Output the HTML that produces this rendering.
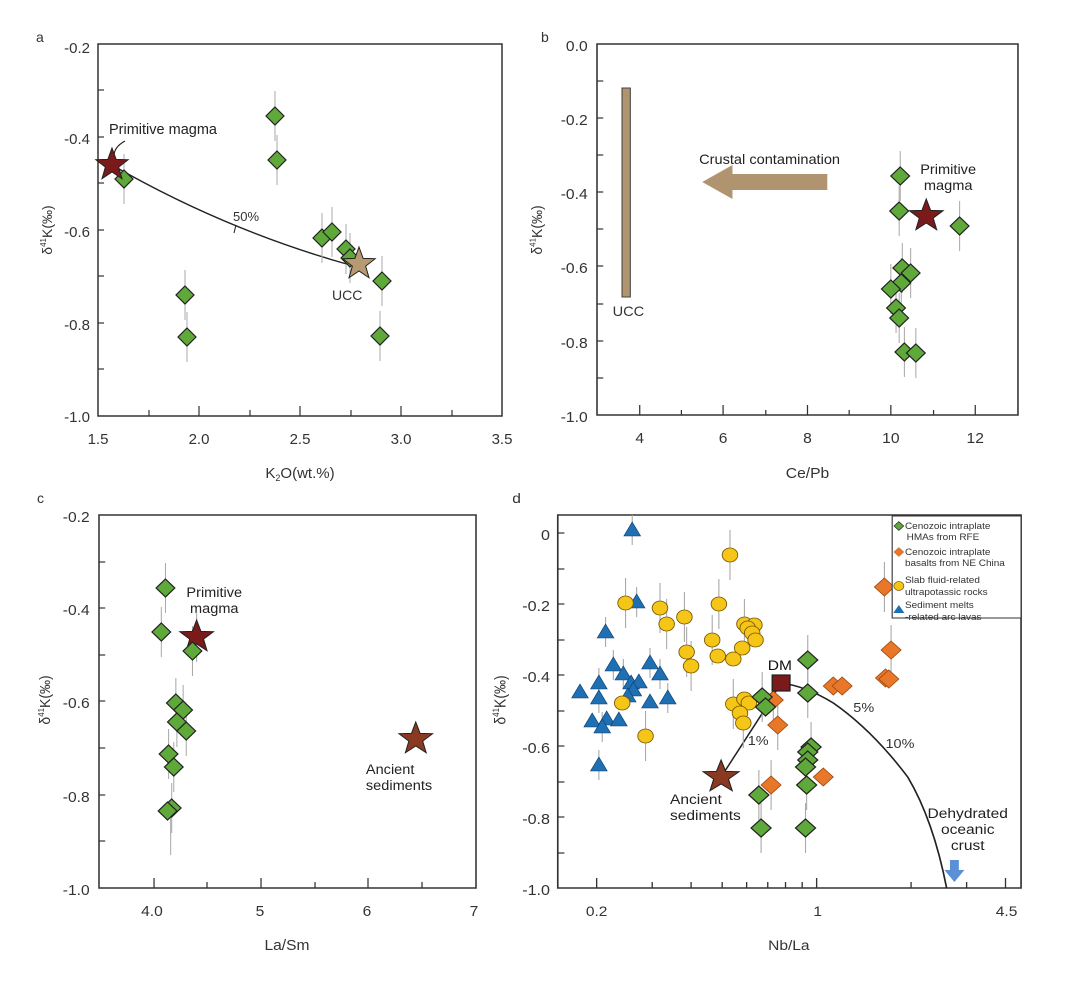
<!DOCTYPE html>
<html><head><meta charset="utf-8"><style>
body{margin:0;background:#fff}
svg{display:block;font-family:"Liberation Sans",sans-serif}
</style></head><body>
<svg width="1080" height="982" viewBox="0 0 1080 982">
<defs>
<polygon id="dg" points="0,-9 9,0 0,9 -9,0" fill="#5fa83a" stroke="#222" stroke-width="1.2"/>
<polygon id="dsm" points="0,-8 8,0 0,8 -8,0" fill="#5fa83a" stroke="#222" stroke-width="1.1"/>
<polygon id="do" points="0,-9 9,0 0,9 -9,0" fill="#e8772a" stroke="#a04a10" stroke-width="0.8"/>
<circle id="cy" r="7" fill="#f5c518" stroke="#7a5a00" stroke-width="0.8"/>
<polygon id="tb" points="0,-8 7.5,6 -7.5,6" fill="#1f6fb3" stroke="#0d3f70" stroke-width="0.6"/>
<polygon id="st" points="0,-17 4.11,-5.66 16.17,-5.25 6.66,2.16 9.99,13.75 0,7 -9.99,13.75 -6.66,2.16 -16.17,-5.25 -4.11,-5.66" stroke="#222" stroke-width="1"/>
<line id="eb" x1="0" y1="-25" x2="0" y2="25" stroke="#aaa" stroke-width="1"/>
<line id="ebs" x1="0" y1="-15" x2="0" y2="15" stroke="#aaa" stroke-width="1"/>
</defs>
<g font-size="14" fill="#333">
<!-- ===== Panel a ===== -->
<text x="36" y="42">a</text>
<rect x="98" y="44" width="404" height="372" fill="none" stroke="#333" stroke-width="1.5"/>
<g stroke="#333" stroke-width="1.2">
<line x1="98" y1="90" x2="104" y2="90"/><line x1="98" y1="137" x2="104" y2="137"/><line x1="98" y1="183" x2="104" y2="183"/><line x1="98" y1="230" x2="104" y2="230"/><line x1="98" y1="276" x2="104" y2="276"/><line x1="98" y1="323" x2="104" y2="323"/><line x1="98" y1="369" x2="104" y2="369"/>
<line x1="149" y1="416" x2="149" y2="410"/><line x1="199" y1="416" x2="199" y2="406"/><line x1="250" y1="416" x2="250" y2="410"/><line x1="300" y1="416" x2="300" y2="406"/><line x1="351" y1="416" x2="351" y2="410"/><line x1="401" y1="416" x2="401" y2="406"/><line x1="452" y1="416" x2="452" y2="410"/>
</g>
<g text-anchor="end" font-size="15"><text x="90" y="53">-0.2</text><text x="90" y="144">-0.4</text><text x="90" y="237">-0.6</text><text x="90" y="330">-0.8</text><text x="90" y="422">-1.0</text></g>
<g text-anchor="middle" font-size="15"><text x="98" y="444">1.5</text><text x="199" y="444">2.0</text><text x="300" y="444">2.5</text><text x="401" y="444">3.0</text><text x="502" y="444">3.5</text></g>
<text x="300" y="478" text-anchor="middle" font-size="15">K<tspan font-size="9" dy="3">2</tspan><tspan dy="-3">O(wt.%)</tspan></text>
<text transform="translate(52,230) rotate(-90)" text-anchor="middle" font-size="14">δ<tspan font-size="8" dy="-6">41</tspan><tspan dy="6">K(‰)</tspan></text>
<path d="M112,165 Q225,230 350,265" fill="none" stroke="#222" stroke-width="1.4"/>
<line x1="236" y1="225" x2="234" y2="233" stroke="#222"/>
<text x="233" y="221" font-size="13">50%</text>
<path d="M125,141 Q114,147 114,156" fill="none" stroke="#222" stroke-width="1.2"/>
<text x="109" y="134" font-size="14.5" fill="#222">Primitive magma</text>
<text x="332" y="300" font-size="14">UCC</text>
<g>
<use href="#eb" x="124" y="179"/><use href="#eb" x="275" y="116"/><use href="#eb" x="277" y="160"/><use href="#eb" x="185" y="295"/><use href="#eb" x="187" y="337"/><use href="#eb" x="322" y="238"/><use href="#eb" x="332" y="232"/><use href="#eb" x="346" y="249"/><use href="#eb" x="350" y="258"/><use href="#eb" x="382" y="281"/><use href="#eb" x="380" y="336"/>
<use href="#dg" x="124" y="179"/><use href="#dg" x="275" y="116"/><use href="#dg" x="277" y="160"/><use href="#dg" x="185" y="295"/><use href="#dg" x="187" y="337"/><use href="#dg" x="322" y="238"/><use href="#dg" x="332" y="232"/><use href="#dg" x="346" y="249"/><use href="#dg" x="350" y="258"/><use href="#dg" x="382" y="281"/><use href="#dg" x="380" y="336"/>
<use href="#st" x="112" y="165" fill="#7a1a1a"/><use href="#st" x="359" y="264" fill="#b89a72"/>
</g>

<!-- ===== Panel b ===== -->
<text x="541" y="42">b</text>
<g transform="translate(597,0) scale(1.042,1) translate(-599,0)">
<rect x="599" y="44" width="404" height="371" fill="none" stroke="#333" stroke-width="1.5"/>
<g stroke="#333" stroke-width="1.2">
<line x1="599" y1="81" x2="605" y2="81"/><line x1="599" y1="118" x2="605" y2="118"/><line x1="599" y1="155" x2="605" y2="155"/><line x1="599" y1="192" x2="605" y2="192"/><line x1="599" y1="229" x2="605" y2="229"/><line x1="599" y1="266" x2="605" y2="266"/><line x1="599" y1="304" x2="605" y2="304"/><line x1="599" y1="341" x2="605" y2="341"/><line x1="599" y1="378" x2="605" y2="378"/>
<line x1="640" y1="415" x2="640" y2="405"/><line x1="680" y1="415" x2="680" y2="410"/><line x1="720" y1="415" x2="720" y2="405"/><line x1="761" y1="415" x2="761" y2="410"/><line x1="801" y1="415" x2="801" y2="405"/><line x1="841" y1="415" x2="841" y2="410"/><line x1="881" y1="415" x2="881" y2="405"/><line x1="922" y1="415" x2="922" y2="410"/><line x1="962" y1="415" x2="962" y2="405"/>
</g>
<g text-anchor="end" font-size="15"><text x="590" y="51">0.0</text><text x="590" y="125">-0.2</text><text x="590" y="199">-0.4</text><text x="590" y="273">-0.6</text><text x="590" y="348">-0.8</text><text x="590" y="422">-1.0</text></g>
<g text-anchor="middle" font-size="15"><text x="640" y="443">4</text><text x="720" y="443">6</text><text x="801" y="443">8</text><text x="881" y="443">10</text><text x="962" y="443">12</text></g>
<text x="801" y="478" text-anchor="middle" font-size="15">Ce/Pb</text>
<text transform="translate(546,230) rotate(-90)" text-anchor="middle" font-size="14">δ<tspan font-size="8" dy="-6">41</tspan><tspan dy="6">K(‰)</tspan></text>
<rect x="623" y="88" width="8" height="209" fill="#b09470" stroke="#444" stroke-width="1"/>
<text x="614" y="316" font-size="14">UCC</text>
<polygon points="820,174 729,174 729,165 700,182 729,199 729,190 820,190" fill="#b09470"/>
<text x="697" y="164" font-size="14" fill="#222">Crustal contamination</text>
<text x="936" y="174" text-anchor="middle" font-size="14" fill="#222">Primitive</text>
<text x="936" y="190" text-anchor="middle" font-size="14" fill="#222">magma</text>
<g>
<use href="#eb" x="890" y="176"/><use href="#eb" x="889" y="211"/><use href="#eb" x="947" y="226"/><use href="#eb" x="892" y="268"/><use href="#eb" x="900" y="273"/><use href="#eb" x="891" y="283"/><use href="#eb" x="881" y="289"/><use href="#eb" x="886" y="308"/><use href="#eb" x="889" y="318"/><use href="#eb" x="894" y="352"/><use href="#eb" x="905" y="353"/>
<use href="#dg" x="890" y="176"/><use href="#dg" x="889" y="211"/><use href="#dg" x="947" y="226"/><use href="#dg" x="892" y="268"/><use href="#dg" x="900" y="273"/><use href="#dg" x="891" y="283"/><use href="#dg" x="881" y="289"/><use href="#dg" x="886" y="308"/><use href="#dg" x="889" y="318"/><use href="#dg" x="894" y="352"/><use href="#dg" x="905" y="353"/>
<use href="#st" x="915" y="216" fill="#7a1a1a"/>
</g>
</g>

<!-- ===== Panel c ===== -->
<text x="37" y="503">c</text>
<g transform="translate(99,0) scale(1.0386,1) translate(-99,0)">
<rect x="99" y="515" width="363" height="373" fill="none" stroke="#333" stroke-width="1.5"/>
<g stroke="#333" stroke-width="1.2">
<line x1="99" y1="562" x2="105" y2="562"/><line x1="99" y1="608" x2="105" y2="608"/><line x1="99" y1="655" x2="105" y2="655"/><line x1="99" y1="701" x2="105" y2="701"/><line x1="99" y1="748" x2="105" y2="748"/><line x1="99" y1="795" x2="105" y2="795"/><line x1="99" y1="841" x2="105" y2="841"/>
<line x1="152" y1="888" x2="152" y2="878"/><line x1="203" y1="888" x2="203" y2="882"/><line x1="255" y1="888" x2="255" y2="878"/><line x1="307" y1="888" x2="307" y2="882"/><line x1="358" y1="888" x2="358" y2="878"/><line x1="410" y1="888" x2="410" y2="882"/>
</g>
<g text-anchor="end" font-size="15"><text x="90" y="522">-0.2</text><text x="90" y="615">-0.4</text><text x="90" y="708">-0.6</text><text x="90" y="802">-0.8</text><text x="90" y="895">-1.0</text></g>
<g text-anchor="middle" font-size="15"><text x="150" y="916">4.0</text><text x="254" y="916">5</text><text x="357" y="916">6</text><text x="460" y="916">7</text></g>
<text x="280" y="950" text-anchor="middle" font-size="15">La/Sm</text>
<text transform="translate(52,700) rotate(-90)" text-anchor="middle" font-size="14">δ<tspan font-size="8" dy="-6">41</tspan><tspan dy="6">K(‰)</tspan></text>
<text x="210" y="597" text-anchor="middle" font-size="14" fill="#222">Primitive</text>
<text x="210" y="613" text-anchor="middle" font-size="14" fill="#222">magma</text>
<text x="356" y="774" font-size="14" fill="#222">Ancient</text>
<text x="356" y="790" font-size="14" fill="#222">sediments</text>
<g>
<use href="#eb" x="163" y="588"/><use href="#eb" x="159" y="632"/><use href="#eb" x="189" y="651"/><use href="#eb" x="193" y="637"/><use href="#eb" x="173" y="703"/><use href="#eb" x="180" y="710"/><use href="#eb" x="174" y="722"/><use href="#eb" x="183" y="731"/><use href="#eb" x="166" y="754"/><use href="#eb" x="171" y="767"/><use href="#eb" x="169" y="808"/><use href="#eb" x="168" y="830"/>
<use href="#dg" x="163" y="588"/><use href="#dg" x="159" y="632"/><use href="#st" x="193" y="637" fill="#7a1a1a"/><use href="#dg" x="189" y="651"/><use href="#dg" x="173" y="703"/><use href="#dg" x="180" y="710"/><use href="#dg" x="174" y="722"/><use href="#dg" x="183" y="731"/><use href="#dg" x="166" y="754"/><use href="#dg" x="171" y="767"/><use href="#dg" x="169" y="808"/><use href="#dg" x="165" y="811"/>
<use href="#st" x="404" y="739" fill="#8b3a22"/>
</g>
</g>

<!-- ===== Panel d ===== -->
<g transform="translate(500,0) scale(1.111,1) translate(-500,0)">
<text x="511" y="503">d</text>
<rect x="552" y="515" width="417" height="373" fill="none" stroke="#333" stroke-width="1.5"/>
<g stroke="#333" stroke-width="1.2">
<line x1="552" y1="533" x2="558" y2="533"/><line x1="552" y1="569" x2="558" y2="569"/><line x1="552" y1="604" x2="558" y2="604"/><line x1="552" y1="640" x2="558" y2="640"/><line x1="552" y1="675" x2="558" y2="675"/><line x1="552" y1="711" x2="558" y2="711"/><line x1="552" y1="746" x2="558" y2="746"/><line x1="552" y1="782" x2="558" y2="782"/><line x1="552" y1="817" x2="558" y2="817"/><line x1="552" y1="853" x2="558" y2="853"/>
<line x1="587" y1="888" x2="587" y2="878"/><line x1="637" y1="888" x2="637" y2="882"/><line x1="672" y1="888" x2="672" y2="882"/><line x1="700" y1="888" x2="700" y2="882"/><line x1="722" y1="888" x2="722" y2="882"/><line x1="741" y1="888" x2="741" y2="882"/><line x1="757" y1="888" x2="757" y2="882"/><line x1="772" y1="888" x2="772" y2="882"/><line x1="785" y1="888" x2="785" y2="878"/><line x1="870" y1="888" x2="870" y2="882"/><line x1="920" y1="888" x2="920" y2="882"/><line x1="955" y1="888" x2="955" y2="878"/>
</g>
<g text-anchor="end" font-size="14.5"><text x="545" y="540">0</text><text x="545" y="611">-0.2</text><text x="545" y="682">-0.4</text><text x="545" y="753">-0.6</text><text x="545" y="824">-0.8</text><text x="545" y="895">-1.0</text></g>
<g text-anchor="middle" font-size="14"><text x="587" y="916">0.2</text><text x="786" y="916">1</text><text x="956" y="916">4.5</text></g>
<text x="760" y="950" text-anchor="middle" font-size="14">Nb/La</text>
<text transform="translate(505,700) rotate(-90)" text-anchor="middle" font-size="14">δ<tspan font-size="8" dy="-6">41</tspan><tspan dy="6">K(‰)</tspan></text>
<path d="M699,777 L738,710 L753,683" fill="none" stroke="#222" stroke-width="1.4"/>
<path d="M753,683 Q775,686 800,703 Q835,730 867,777 Q890,820 902,888" fill="none" stroke="#222" stroke-width="1.5"/>
<text x="723" y="745" font-size="13">1%</text>
<text x="818" y="712" font-size="13">5%</text>
<text x="847" y="748" font-size="13">10%</text>
<text x="741" y="670" font-size="14" fill="#111">DM</text>
<text x="653" y="804" font-size="14" fill="#222">Ancient</text>
<text x="653" y="820" font-size="14" fill="#222">sediments</text>
<g text-anchor="middle" font-size="14" fill="#222"><text x="921" y="818">Dehydrated</text><text x="921" y="834">oceanic</text><text x="921" y="850">crust</text></g>
<polygon points="905,860 913,860 913,870 918,870 909,882 900,870 905,870" fill="#5b8fd6"/>
<g>
<use href="#ebs" x="619" y="530"/><use href="#ebs" x="623" y="602"/><use href="#ebs" x="595" y="632"/><use href="#ebs" x="602" y="665"/><use href="#ebs" x="635" y="663"/><use href="#ebs" x="611" y="674"/><use href="#ebs" x="589" y="683"/><use href="#ebs" x="644" y="674"/><use href="#ebs" x="589" y="698"/><use href="#ebs" x="651" y="698"/><use href="#ebs" x="592" y="727"/><use href="#ebs" x="589" y="765"/>
<use href="#tb" x="619" y="530"/><use href="#tb" x="623" y="602"/><use href="#tb" x="595" y="632"/><use href="#tb" x="602" y="665"/><use href="#tb" x="635" y="663"/><use href="#tb" x="611" y="674"/><use href="#tb" x="589" y="683"/><use href="#tb" x="644" y="674"/><use href="#tb" x="618" y="683"/><use href="#tb" x="625" y="682"/><use href="#tb" x="620" y="690"/><use href="#tb" x="572" y="692"/><use href="#tb" x="589" y="698"/><use href="#tb" x="615" y="696"/><use href="#tb" x="635" y="702"/><use href="#tb" x="651" y="698"/><use href="#tb" x="583" y="721"/><use href="#tb" x="596" y="719"/><use href="#tb" x="607" y="720"/><use href="#tb" x="592" y="727"/><use href="#tb" x="589" y="765"/>
<use href="#eb" x="707" y="555"/><use href="#eb" x="613" y="603"/><use href="#eb" x="697" y="604"/><use href="#eb" x="644" y="608"/><use href="#eb" x="666" y="617"/><use href="#eb" x="650" y="624"/><use href="#eb" x="720" y="624"/><use href="#eb" x="691" y="640"/><use href="#eb" x="668" y="652"/><use href="#eb" x="672" y="666"/><use href="#eb" x="631" y="736"/><use href="#eb" x="710" y="704"/><use href="#eb" x="719" y="723"/>
<use href="#cy" x="707" y="555"/><use href="#cy" x="613" y="603"/><use href="#cy" x="697" y="604"/><use href="#cy" x="644" y="608"/><use href="#cy" x="666" y="617"/><use href="#cy" x="650" y="624"/><use href="#cy" x="720" y="624"/><use href="#cy" x="729" y="625"/><use href="#cy" x="723" y="628"/><use href="#cy" x="727" y="633"/><use href="#cy" x="691" y="640"/><use href="#cy" x="730" y="640"/><use href="#cy" x="668" y="652"/><use href="#cy" x="696" y="656"/><use href="#cy" x="718" y="648"/><use href="#cy" x="710" y="659"/><use href="#cy" x="672" y="666"/><use href="#cy" x="610" y="703"/><use href="#cy" x="710" y="704"/><use href="#cy" x="720" y="699"/><use href="#cy" x="724" y="703"/><use href="#cy" x="716" y="713"/><use href="#cy" x="719" y="723"/><use href="#cy" x="631" y="736"/>
<use href="#eb" x="846" y="587"/><use href="#eb" x="852" y="650"/><use href="#eb" x="750" y="725"/><use href="#eb" x="744" y="785"/><use href="#eb" x="746" y="700"/>
<use href="#do" x="846" y="587"/><use href="#do" x="852" y="650"/><use href="#do" x="800" y="686"/><use href="#do" x="808" y="686"/><use href="#do" x="847" y="678"/><use href="#do" x="850" y="679"/><use href="#do" x="746" y="700"/><use href="#do" x="750" y="725"/><use href="#do" x="744" y="785"/><use href="#do" x="791" y="777"/>
<use href="#eb" x="777" y="660"/><use href="#eb" x="777" y="693"/><use href="#eb" x="736" y="697"/><use href="#eb" x="780" y="747"/><use href="#eb" x="776" y="785"/><use href="#eb" x="733" y="795"/><use href="#eb" x="735" y="828"/><use href="#eb" x="775" y="828"/>
<use href="#dg" x="777" y="660"/><use href="#dg" x="777" y="693"/><use href="#dg" x="736" y="697"/><use href="#dg" x="739" y="707"/><use href="#dg" x="780" y="747"/><use href="#dg" x="777" y="752"/><use href="#dg" x="777" y="760"/><use href="#dg" x="775" y="767"/><use href="#dg" x="776" y="785"/><use href="#dg" x="733" y="795"/><use href="#dg" x="735" y="828"/><use href="#dg" x="775" y="828"/>
<rect x="745" y="675" width="16" height="16" fill="#7a1a1a" stroke="#222" stroke-width="1.2"/>
<use href="#st" x="699" y="777" fill="#8b3a22"/>
</g>
<rect x="853" y="516" width="116" height="102" fill="#fff" stroke="#333" stroke-width="1"/>
<g font-size="9" fill="#333">
<g transform="translate(859,526) scale(0.55)"><use href="#dsm"/></g>
<text x="864.5" y="529">Cenozoic intraplate</text><text x="866" y="540">HMAs from RFE</text>
<g transform="translate(859,552) scale(0.5)"><use href="#do"/></g>
<text x="864.5" y="555">Cenozoic intraplate</text><text x="864.5" y="566">basalts from NE China</text>
<circle cx="859" cy="586" r="4.5" fill="#f5c518" stroke="#7a5a00" stroke-width="0.7"/>
<text x="864.5" y="583">Slab fluid-related</text><text x="864.5" y="595">ultrapotassic  rocks</text>
<polygon points="859,605 864,613 854,613" fill="#1f6fb3"/>
<text x="864.5" y="608">Sediment melts</text><text x="864.5" y="620">-related arc lavas</text>
</g>
</g>
</g>
</svg>
</body></html>
